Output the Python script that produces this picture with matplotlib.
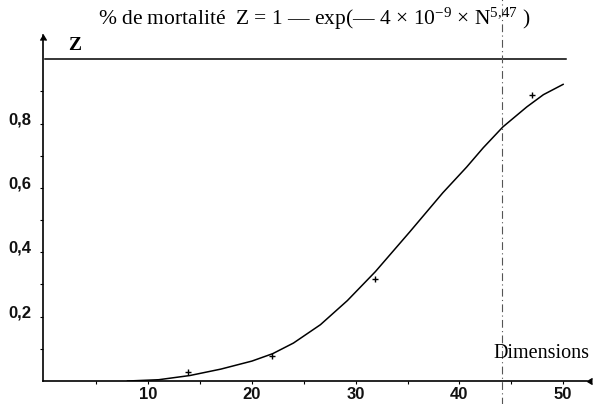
import numpy as np
import matplotlib.pyplot as plt
import matplotlib.transforms as mtransforms
from matplotlib.ticker import FixedLocator, FuncFormatter

plt.rcParams['mathtext.fontset'] = 'custom'
plt.rcParams['mathtext.rm'] = 'Liberation Serif'
plt.rcParams['mathtext.it'] = 'Liberation Serif:italic'

# fitted curve
dims = [8, 11, 14, 17, 20, 22, 24, 26.6, 29.2, 31.9, 35.2, 38.4, 40.7, 42.3, 44.2, 46.5, 48.1, 50]
z_fit = [0, 0.004, 0.017, 0.037, 0.062, 0.085, 0.118, 0.175, 0.25, 0.34, 0.463, 0.585,
         0.665, 0.725, 0.79, 0.852, 0.89, 0.922]

# observed mortality
obs_dims = [13.8, 21.9, 31.9, 47.0]
obs_z = [0.028, 0.078, 0.317, 0.89]

x_ticks = [10, 20, 30, 40, 50]
x_minor = [5, 15, 25, 35, 45]
y_ticks = [0.2, 0.4, 0.6, 0.8]
y_minor = [0.1, 0.3, 0.5, 0.7, 0.9]
cut_dim = 44.1

fig = plt.figure(figsize=(6.07, 4.04), dpi=100)
ax = fig.add_axes([0.0708, 0.0569, 0.967 - 0.0708, 0.913 - 0.0569])

ax.plot(dims, z_fit, color='black', lw=1.1)
ax.plot(obs_dims, obs_z, '+', color='black', ms=5, mew=1.0)
ax.plot([0, 50.3], [1, 1], color='black', lw=1.1)
ax.axvline(cut_dim, ymin=-0.07, ymax=1.11, clip_on=False, color='#555555',
           lw=0.8, ls=(0, (7, 3, 1, 3)))

ax.set_xlim(-0.15, 52.3)
ax.set_ylim(0, 1.075)

for s in ['top', 'right']:
    ax.spines[s].set_visible(False)
for s in ['left', 'bottom']:
    ax.spines[s].set_linewidth(1.2)

# arrow heads
ax.plot(1, 0, marker=4, color='black', ms=5, transform=ax.transAxes, clip_on=False)
ax.plot(0, 1, marker=6, color='black', ms=5, transform=ax.transAxes, clip_on=False)

ax.xaxis.set_major_locator(FixedLocator(x_ticks))
ax.xaxis.set_minor_locator(FixedLocator(x_minor))
ax.yaxis.set_major_locator(FixedLocator(y_ticks))
ax.yaxis.set_minor_locator(FixedLocator(y_minor))
ax.yaxis.set_major_formatter(FuncFormatter(lambda v, p: f'{v:.1f}'.replace('.', ',')))
ax.tick_params(which='both', direction='out', length=2.5, width=0.8, color='black')
ax.tick_params(axis='x', pad=2)
ax.tick_params(axis='y', pad=6)

for lab in ax.get_xticklabels() + ax.get_yticklabels():
    lab.set_fontfamily('Liberation Sans')
    lab.set_fontweight('bold')
    lab.set_fontsize(12)
    lab.set_color('#111111')
shift = mtransforms.ScaledTranslation(0, 4 / 72, fig.dpi_scale_trans)
for lab in ax.get_yticklabels():
    lab.set_transform(lab.get_transform() + shift)

ax.text(2.9, 1.043, 'Z', fontfamily='Liberation Serif', fontsize=14, fontweight='bold',
        ha='center', va='center')
ax.text(47.9, 0.087, 'Dimensions', fontfamily='Liberation Serif', fontsize=14.5,
        ha='center', va='center')

fig.text(0.518, 0.953, '% de mortalité  Z = 1 — exp(— 4 × 10$^{-9}$ × N$^{5{,}47}$ )',
         fontfamily='Liberation Serif', fontsize=15.5, ha='center', va='center')

fig.savefig('out.png', dpi=100)
